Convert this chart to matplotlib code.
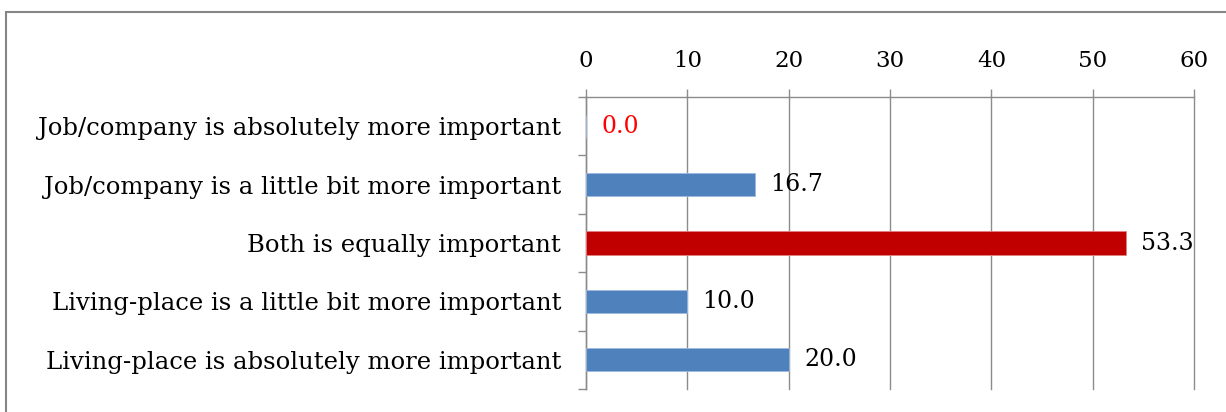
import matplotlib
matplotlib.use("Agg")
import matplotlib.pyplot as plt
from matplotlib.patches import Rectangle

categories = [
    "Job/company is absolutely more important",
    "Job/company is a little bit more important",
    "Both is equally important",
    "Living-place is a little bit more important",
    "Living-place is absolutely more important",
]
values = [0.0, 16.7, 53.3, 10.0, 20.0]
bar_colors = ["#4F81BD", "#4F81BD", "#C00000", "#4F81BD", "#4F81BD"]
edge_colors = ["#9DB9DE", "#9DB9DE", "#E08080", "#9DB9DE", "#9DB9DE"]
label_colors = ["#FF0000", "black", "black", "black", "black"]
xticks = [0, 10, 20, 30, 40, 50, 60]

plt.rcParams['font.family'] = ['DejaVu Serif']

fig = plt.figure(figsize=(12.26, 4.12), dpi=100)
fig.patches.append(Rectangle((6/1226, -0.1), 1.2, 1 - 12/412 + 0.1,
                             transform=fig.transFigure, fill=False,
                             edgecolor="#858585", linewidth=1.5))

ax = fig.add_axes([586/1226, 1 - 389/412, (1194 - 586)/1226, (389 - 97)/412])

ypos = list(range(len(categories)))
ax.barh(ypos, values, height=0.4, color=bar_colors, edgecolor=edge_colors,
        linewidth=0.6, zorder=3)

for y, v, lc in zip(ypos, values, label_colors):
    ax.annotate(f"{v:.1f}", xy=(v, y), xytext=(11, 0), textcoords="offset points",
                ha="left", va="center", fontsize=17, color=lc, zorder=4)

ax.set_xlim(0, 60)
ax.set_ylim(len(categories) - 0.5, -0.5)
ax.xaxis.tick_top()
ax.set_xticks(xticks)
ax.set_xticklabels([str(t) for t in xticks], fontsize=16.5)
ax.tick_params(axis="x", direction="out", length=6, width=1, color="#8C8C8C",
               pad=12)

ax.set_yticks(ypos)
ax.set_yticklabels(categories, fontsize=17.5)
ax.set_yticks([i - 0.5 for i in range(len(categories) + 1)], minor=True)
ax.tick_params(axis="y", which="major", length=0, pad=18)
ax.tick_params(axis="y", which="minor", direction="out", length=6, width=1,
               color="#8C8C8C")

ax.grid(axis="x", color="#8C8C8C", linewidth=1, zorder=0)
for gl in ax.get_xgridlines():
    gl.set_clip_on(False)
ax.set_axisbelow(True)
for s in ["right", "bottom"]:
    ax.spines[s].set_visible(False)
for s in ["top", "left"]:
    ax.spines[s].set_color("#8C8C8C")
    ax.spines[s].set_linewidth(1)

fig.savefig("out.png", dpi=100)
